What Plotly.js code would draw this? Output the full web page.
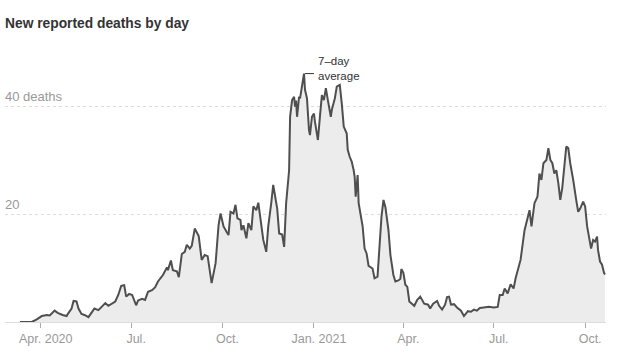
<!DOCTYPE html>
<html>
<head>
<meta charset="utf-8">
<script src="https://cdn.plot.ly/plotly-3.0.1.min.js"></script>
<style>
html,body{margin:0;padding:0;background:#fff;}
#chart{width:618px;height:358px;}
</style>
</head>
<body>
<div id="chart"></div>
<script>
// ---- data ----
const dates = [
'2020-03-11','2020-03-23','2020-03-28',
'2020-04-02','2020-04-07','2020-04-10','2020-04-15','2020-04-18','2020-04-23','2020-04-27','2020-04-29',
'2020-05-02','2020-05-04','2020-05-07','2020-05-09','2020-05-12','2020-05-15','2020-05-19','2020-05-22','2020-05-25','2020-05-29',
'2020-06-01','2020-06-05','2020-06-08','2020-06-11','2020-06-15','2020-06-18','2020-06-21','2020-06-24','2020-06-26','2020-06-29',
'2020-07-02','2020-07-06','2020-07-08','2020-07-12','2020-07-15','2020-07-18','2020-07-22','2020-07-25','2020-07-28',
'2020-08-02','2020-08-06','2020-08-07','2020-08-10','2020-08-12','2020-08-16','2020-08-18','2020-08-21','2020-08-24','2020-08-26','2020-08-29','2020-08-31',
'2020-09-03','2020-09-07','2020-09-10','2020-09-13','2020-09-16','2020-09-20','2020-09-24','2020-09-27','2020-09-29',
'2020-10-02','2020-10-05','2020-10-07','2020-10-09','2020-10-12','2020-10-14','2020-10-16','2020-10-19','2020-10-20','2020-10-22','2020-10-25','2020-10-27','2020-10-30',
'2020-11-01','2020-11-04','2020-11-06','2020-11-08','2020-11-11','2020-11-14','2020-11-16','2020-11-19','2020-11-21','2020-11-23','2020-11-25','2020-11-27','2020-11-30',
'2020-12-02','2020-12-04','2020-12-07','2020-12-08','2020-12-10','2020-12-12','2020-12-13','2020-12-14','2020-12-15','2020-12-17','2020-12-18','2020-12-20','2020-12-22','2020-12-23','2020-12-25','2020-12-27','2020-12-28','2020-12-30',
'2021-01-01','2021-01-02','2021-01-05','2021-01-07','2021-01-09','2021-01-11','2021-01-13','2021-01-15','2021-01-18','2021-01-19','2021-01-22','2021-01-24','2021-01-27','2021-01-29','2021-01-31',
'2021-02-03','2021-02-04','2021-02-06','2021-02-08','2021-02-10','2021-02-11','2021-02-12','2021-02-14','2021-02-15','2021-02-17','2021-02-19','2021-02-21','2021-02-23','2021-02-25',
'2021-03-01','2021-03-03','2021-03-06','2021-03-08','2021-03-10','2021-03-12','2021-03-14','2021-03-17','2021-03-19','2021-03-22','2021-03-24','2021-03-27','2021-03-29','2021-03-30',
'2021-04-01','2021-04-03','2021-04-05','2021-04-07','2021-04-09','2021-04-12','2021-04-15','2021-04-18','2021-04-22','2021-04-26','2021-04-28',
'2021-05-01','2021-05-05','2021-05-07','2021-05-10','2021-05-13','2021-05-15','2021-05-17','2021-05-19','2021-05-22','2021-05-25','2021-05-29',
'2021-06-01','2021-06-05','2021-06-08','2021-06-11','2021-06-14','2021-06-17','2021-06-21','2021-06-26',
'2021-07-01','2021-07-05','2021-07-07','2021-07-10','2021-07-12','2021-07-15','2021-07-18','2021-07-21','2021-07-23','2021-07-27','2021-07-28',
'2021-08-01','2021-08-03','2021-08-06','2021-08-08','2021-08-11','2021-08-14','2021-08-16','2021-08-18','2021-08-20','2021-08-23','2021-08-25','2021-08-27','2021-08-29','2021-08-31',
'2021-09-02','2021-09-04','2021-09-06','2021-09-08','2021-09-10','2021-09-12','2021-09-14','2021-09-16','2021-09-19','2021-09-20','2021-09-22','2021-09-24','2021-09-26','2021-09-29',
'2021-10-01','2021-10-03','2021-10-05','2021-10-07','2021-10-09','2021-10-11','2021-10-13','2021-10-14','2021-10-16','2021-10-18','2021-10-20','2021-10-21'
];
const deaths7DayAvg = [
0,0,0.5,
1.1,1.3,1.2,2.1,1.7,1.3,1.1,1.7,
2.5,3.9,3.8,2.5,1.5,1.3,0.9,1.7,2.5,2.2,
2.7,3.5,3.0,3.3,3.8,5.0,6.7,6.8,4.7,5.2,
5.0,3.1,4.0,4.3,4.1,5.6,5.9,6.4,7.5,
8.7,10.1,9.6,11.4,9.6,9.4,8.3,12.6,13.0,14.3,13.6,14.1,
17.3,15.9,11.5,12.4,12.2,7.2,10.9,18.0,20.1,
17.7,16.7,16.1,20.4,20.1,21.7,19.2,18.9,17.0,17.9,15.5,18.3,17.0,
21.4,20.7,22.1,19.5,15.2,13.0,17.7,22.0,25.4,23.2,21.0,16.4,16.2,
13.9,22.0,28.1,38.0,41.1,41.7,39.9,41.0,38.0,41.7,41.4,44.2,46.0,43.0,41.4,35.6,34.6,38.0,
38.6,37.1,33.7,38.0,42.0,41.1,43.3,41.1,38.0,39.3,41.4,43.6,43.9,40.5,36.2,
34.9,31.9,30.6,29.7,28.1,26.9,23.2,27.2,22.0,20.1,17.7,13.6,12.7,10.4,
9.9,8.1,8.4,14.0,19.5,22.6,21.2,17.0,12.4,8.7,7.5,7.7,8.0,9.8,
9.1,6.9,6.5,3.8,3.4,3.0,4.1,4.7,3.4,3.2,2.5,
3.4,3.9,3.0,2.3,3.2,4.6,4.7,3.2,3.3,2.7,2.1,
1.1,2.0,1.9,2.3,2.1,2.6,2.7,2.8,
2.7,2.8,5.0,5.0,6.2,5.3,7.0,6.2,8.1,10.9,11.5,
17.0,18.6,20.7,17.7,22.0,23.2,27.5,26.3,29.4,30.0,32.2,30.0,29.4,27.5,
28.1,25.7,22.6,24.9,28.8,32.5,32.2,29.4,26.3,24.9,22.6,20.4,21.0,22.3,
21.4,17.7,15.8,13.6,15.2,14.9,15.8,13.3,11.2,10.6,9.1,8.8
];
const xTickVals = ['2020-04-01','2020-07-01','2020-10-01','2021-01-01','2021-04-01','2021-07-01','2021-10-01'];
const xTickText = ['Apr. 2020','Jul.','Oct.','Jan. 2021','Apr.','Jul.','Oct.'];
const yTickVals = [20, 40];
const yTickText = ['20', '40 deaths'];
const xRange = ['2020-02-25', '2021-10-22'];
const yRange = [0, 50];
const peakDate = '2020-12-22';
const peakValue = 46.0;
const chartTitle = 'New reported deaths by day';
const annotationText = '7–day<br>average';

const baseFont = 'Liberation Sans, Arial, sans-serif';

// tick labels sit a few pixels right of their tick marks (as in the reference)
const labelOffsetDays = 5;
const xLabelVals = xTickVals.map(d => {
  const t = new Date(d + 'T00:00:00Z');
  t.setUTCDate(t.getUTCDate() + labelOffsetDays);
  return t.toISOString().slice(0, 10);
});

const trace = {
  type: 'scatter',
  mode: 'lines',
  x: dates,
  y: deaths7DayAvg,
  fill: 'tozeroy',
  fillcolor: '#ececec',
  line: {color: '#4f4f4f', width: 2, shape: 'linear'},
  hoverinfo: 'skip'
};
// invisible helper so the label axis is drawn
const labelAxisTrace = {
  type: 'scatter', mode: 'markers',
  x: [dates[0]], y: [0],
  xaxis: 'x2', yaxis: 'y',
  marker: {opacity: 0, size: 1},
  hoverinfo: 'skip', showlegend: false
};

// y-axis labels drawn just above their gridlines, at the left edge
const yLabelAnnotations = yTickVals.map((v, i) => ({
  xref: 'paper', yref: 'y',
  x: 0, y: v,
  text: yTickText[i],
  showarrow: false,
  xanchor: 'left', yanchor: 'middle',
  xshift: -2, yshift: 10,
  font: {family: baseFont, size: 13, color: '#999'}
}));

const layout = {
  width: 618,
  height: 358,
  margin: {l: 5, r: 12, t: 52, b: 36},
  paper_bgcolor: '#fff',
  plot_bgcolor: '#fff',
  showlegend: false,
  title: {
    text: '<b>' + chartTitle + '</b>',
    font: {family: baseFont, size: 13.8, color: '#333'},
    xref: 'container', x: 5/618, xanchor: 'left',
    yref: 'container', y: 1 - 23/358, yanchor: 'middle'
  },
  xaxis: {
    type: 'date',
    range: xRange,
    tickmode: 'array',
    tickvals: xTickVals,
    ticks: 'outside',
    ticklen: 5,
    tickwidth: 1,
    tickcolor: '#aaa',
    showticklabels: false,
    showgrid: false,
    showline: true,
    linecolor: '#ddd',
    linewidth: 1,
    zeroline: false,
    fixedrange: true
  },
  xaxis2: {
    type: 'date',
    overlaying: 'x',
    matches: 'x',
    anchor: 'y',
    side: 'bottom',
    range: xRange,
    tickmode: 'array',
    tickvals: xLabelVals,
    ticktext: xTickText,
    ticks: 'outside',
    ticklen: 5,
    tickcolor: 'rgba(0,0,0,0)',
    showgrid: false,
    showline: false,
    zeroline: false,
    tickfont: {family: baseFont, size: 12.5, color: '#999'},
    fixedrange: true
  },
  yaxis: {
    range: yRange,
    tickmode: 'array',
    tickvals: yTickVals,
    showticklabels: false,
    ticks: '',
    showgrid: true,
    gridcolor: '#dcdcdc',
    griddash: '3px,3px',
    gridwidth: 1,
    zeroline: false,
    showline: false,
    fixedrange: true
  },
  shapes: [{
    type: 'line',
    xref: 'x', yref: 'y',
    xsizemode: 'pixel', xanchor: peakDate,
    x0: 1, x1: 10,
    y0: peakValue, y1: peakValue,
    line: {color: '#333', width: 1}
  }],
  annotations: yLabelAnnotations.concat([{
    xref: 'x', yref: 'y',
    x: peakDate, y: peakValue,
    text: annotationText,
    showarrow: false,
    xanchor: 'left', yanchor: 'middle',
    align: 'left',
    xshift: 12, yshift: 5,
    font: {family: baseFont, size: 11.5, color: '#333'}
  }])
};

Plotly.newPlot('chart', [trace, labelAxisTrace], layout, {displayModeBar: false, staticPlot: true});
</script>
</body>
</html>
